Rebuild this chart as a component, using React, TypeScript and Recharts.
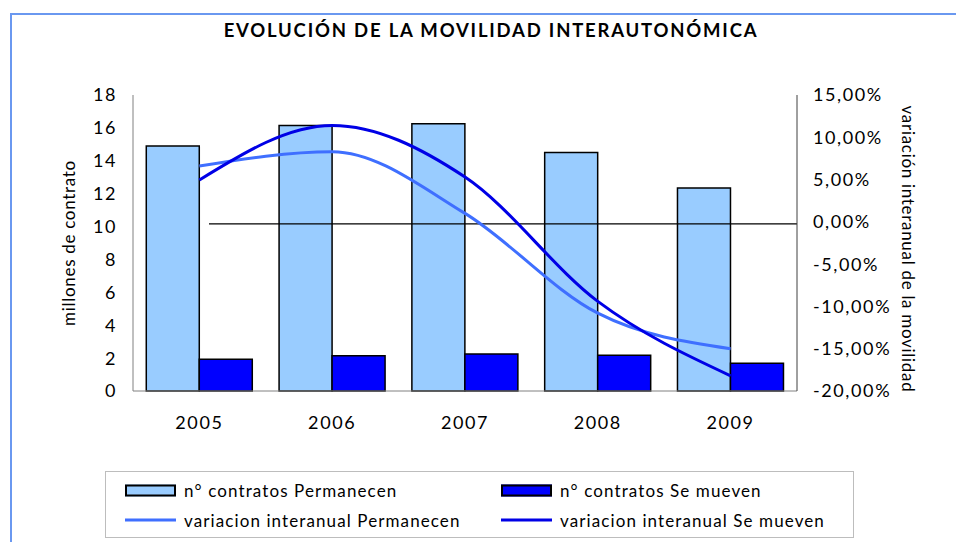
import { ComposedChart, Bar, Line, XAxis, YAxis, ReferenceLine } from "recharts";

const years = ["2005", "2006", "2007", "2008", "2009"];
const contratosPermanecen = [14.9, 16.15, 16.25, 14.5, 12.35];
const contratosSeMueven = [1.93, 2.15, 2.25, 2.17, 1.68];
const variacionPermanecen = [6.6, 8.3, 1.0, -10.8, -15.0];
const variacionSeMueven = [4.95, 11.4, 5.3, -9.4, -18.2];
const leftTicks = [0, 2, 4, 6, 8, 10, 12, 14, 16, 18];
const rightTicks = [-20, -15, -10, -5, 0, 5, 10, 15];

const FONT = "Lato, 'Open Sans', sans-serif";
const LIGHT_BAR = "#99CCFF";
const DARK_BAR = "#0000FF";
const LIGHT_LINE = "#3F6FFF";
const DARK_LINE = "#0000E6";

const data = years.map((y, i) => ({
  year: y,
  perm: contratosPermanecen[i],
  mueven: contratosSeMueven[i],
  varPerm: variacionPermanecen[i],
  varMueven: variacionSeMueven[i],
}));

const fmtPct = (v: number) => v.toFixed(2).replace(".", ",") + "%";

const tickStyle = { fill: "#000", fontSize: 18, fontFamily: FONT, letterSpacing: 1.6 };
const labelStyle = { fill: "#000", fontSize: 17, fontFamily: FONT, letterSpacing: 0.7 };

const legendItems = [
  { label: "n° contratos Permanecen", kind: "bar", color: LIGHT_BAR },
  { label: "n° contratos Se mueven", kind: "bar", color: DARK_BAR },
  { label: "variacion interanual Permanecen", kind: "line", color: LIGHT_LINE },
  { label: "variacion interanual Se mueven", kind: "line", color: DARK_LINE },
];

// zero line of the secondary axis, starts a bit right of the plot's left edge
function ZeroLine(p: any) {
  const left = Math.min(p.x1, p.x2);
  const right = Math.max(p.x1, p.x2);
  return <line x1={left + 76} y1={p.y1 + 2} x2={right} y2={p.y2 + 2} stroke="#000" strokeWidth={1.3} />;
}

function LegendBox() {
  return (
    <div
      style={{
        position: "absolute",
        left: 105,
        top: 471,
        width: 747,
        height: 65,
        border: "1px solid #BDBDBD",
        fontFamily: FONT,
        fontSize: 17,
        letterSpacing: 1.1,
        color: "#000",
      }}
    >
      {legendItems.map((it, i) => {
        const col = i % 2;
        const row = Math.floor(i / 2);
        return (
          <div
            key={it.label}
            style={{
              position: "absolute",
              left: col === 0 ? 19 : 395,
              top: row === 0 ? 18 : 48,
              transform: "translateY(-50%)",
              display: "flex",
              alignItems: "center",
              whiteSpace: "nowrap",
            }}
          >
            {it.kind === "bar" ? (
              <span
                style={{
                  display: "inline-block",
                  width: 47,
                  height: 8,
                  background: it.color,
                  border: "2px solid #000",
                  marginRight: 8,
                }}
              />
            ) : (
              <span
                style={{
                  display: "inline-block",
                  width: 51,
                  height: 3,
                  background: it.color,
                  marginRight: 8,
                }}
              />
            )}
            <span>{it.label}</span>
          </div>
        );
      })}
    </div>
  );
}

export default function App() {
  return (
    <div style={{ position: "absolute", left: 0, top: 0, width: 956, height: 542, background: "#fff", overflow: "hidden" }}>
      <div
        style={{
          position: "absolute",
          left: 10,
          top: 13,
          width: 960,
          height: 560,
          border: "2px solid #6A98F0",
          boxSizing: "border-box",
        }}
      />
      <div
        style={{
          position: "absolute",
          left: 0,
          top: 19,
          width: 982,
          textAlign: "center",
          fontFamily: FONT,
          fontWeight: 700,
          fontSize: 18.5,
          letterSpacing: 1.8,
          color: "#000",
        }}
      >
        EVOLUCIÓN DE LA MOVILIDAD INTERAUTONÓMICA
      </div>
      <div style={{ position: "absolute", left: 0, top: 0 }}>
        <ComposedChart
          width={956}
          height={542}
          data={data}
          margin={{ top: 95, right: 0, bottom: 121, left: 0 }}
          barCategoryGap="10%"
          barGap={0}
        >
          <XAxis
            dataKey="year"
            height={30}
            tickLine={false}
            axisLine={{ stroke: "#808080" }}
            tick={tickStyle}
            tickMargin={19}
          />
          <YAxis
            yAxisId="left"
            orientation="left"
            width={133}
            domain={[0, 18]}
            ticks={leftTicks}
            interval={0}
            tickLine={false}
            axisLine={{ stroke: "#808080" }}
            tick={tickStyle}
            tickMargin={10}
            label={{
              value: "millones de contrato",
              angle: -90,
              position: "center",
              dx: 2,
              style: labelStyle,
            }}
          />
          <YAxis
            yAxisId="right"
            orientation="right"
            width={159}
            domain={[-20, 15]}
            ticks={rightTicks}
            interval={0}
            tickLine={false}
            axisLine={{ stroke: "#404040" }}
            tick={tickStyle}
            tickMargin={10}
            tickFormatter={fmtPct}
            label={{
              value: "variación interanual de la movilidad",
              angle: 90,
              position: "center",
              dx: 32,
              dy: 6,
              style: labelStyle,
            }}
          />
          <Bar
            yAxisId="left"
            dataKey="perm"
            fill={LIGHT_BAR}
            stroke="#000"
            strokeWidth={1.5}
            isAnimationActive={false}
          />
          <Bar
            yAxisId="left"
            dataKey="mueven"
            fill={DARK_BAR}
            stroke="#000"
            strokeWidth={1.5}
            isAnimationActive={false}
          />
          <ReferenceLine yAxisId="right" y={0} shape={ZeroLine} />
          <Line
            yAxisId="right"
            dataKey="varPerm"
            type="monotone"
            stroke={LIGHT_LINE}
            strokeWidth={3}
            dot={false}
            isAnimationActive={false}
          />
          <Line
            yAxisId="right"
            dataKey="varMueven"
            type="monotone"
            stroke={DARK_LINE}
            strokeWidth={3}
            dot={false}
            isAnimationActive={false}
          />
        </ComposedChart>
      </div>
      <LegendBox />
    </div>
  );
}
